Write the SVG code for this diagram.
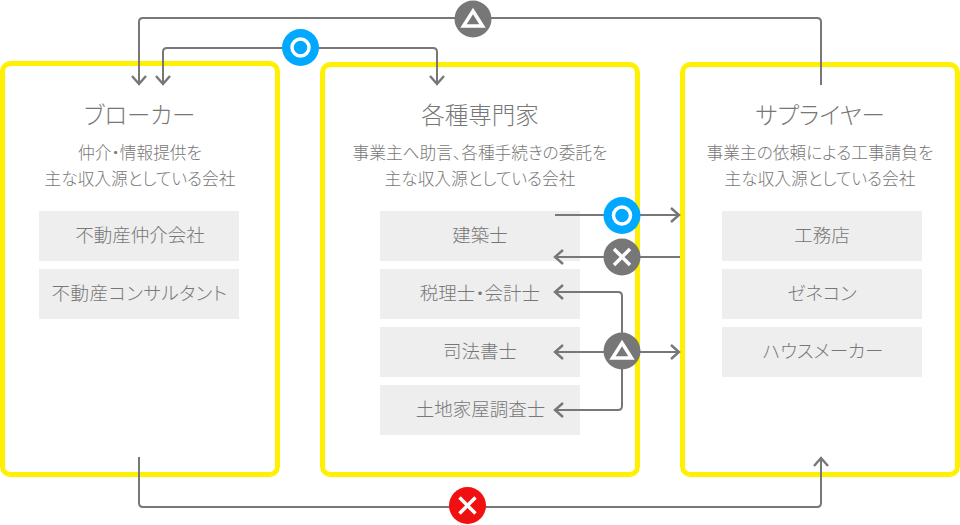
<svg xmlns="http://www.w3.org/2000/svg" width="960" height="525" viewBox="0 0 960 525">
<style>
text{font-family:"Noto Sans CJK JP","Noto Sans",sans-serif;font-weight:300;fill:#777;text-anchor:middle;font-feature-settings:"palt"}
.t{font-size:23.5px}.d{font-size:16.700px}.i{font-size:18.500px}
.box{fill:#fff;stroke:#fff000;stroke-width:5}
.item{fill:#eee}
.c{fill:none;stroke:#777;stroke-width:2}
.a{fill:none;stroke:#777;stroke-width:2.4}
.g{stroke:#fff;stroke-width:3.5;fill:none}
</style>
<defs>
<g id="o"><circle r="18.5" fill="#00a8ff"/><circle r="8.5" class="g"/></g>
<g id="x"><circle r="18.5" fill="#777"/><path d="M-8-8L8 8M8-8L-8 8" class="g"/></g>
<g id="xr"><circle r="18.5" fill="#f01010"/><path d="M-8-8L8 8M8-8L-8 8" class="g"/></g>
<g id="t"><circle r="18.5" fill="#777"/><path d="M0-8L9.500 7H-9.500Z" class="g"/></g>
</defs>
<g id="broker"><rect class="box" x="2.500" y="63.500" width="275" height="411" rx="8"/>
<text class="t" x="139.500" y="124">ブローカー</text>
<text class="d" x="140" y="159">仲介・情報提供を</text><text class="d" x="140" y="185">主な収入源としている会社</text>
<rect class="item" x="39" y="211" width="200" height="50"/><text class="i" x="140" y="242">不動産仲介会社</text>
<rect class="item" x="39" y="269" width="200" height="50"/><text class="i" x="139.500" y="300" letter-spacing=".5">不動産コンサルタント</text></g>
<g id="specialist"><rect class="box" x="322.500" y="64.500" width="315" height="410" rx="8"/>
<text class="t" x="480" y="124">各種専門家</text>
<text class="d" x="480" y="159">事業主へ助言、各種手続きの委託を</text><text class="d" x="480" y="185">主な収入源としている会社</text>
<rect class="item" x="380" y="211" width="200" height="50"/><text class="i" x="480" y="242">建築士</text>
<rect class="item" x="380" y="269" width="200" height="50"/><text class="i" x="480" y="300">税理士・会計士</text>
<rect class="item" x="380" y="327" width="200" height="50"/><text class="i" x="480" y="358">司法書士</text>
<rect class="item" x="380" y="385" width="200" height="50"/><text class="i" x="480.500" y="416">土地家屋調査士</text></g>
<g id="supplier"><rect class="box" x="682.500" y="64.500" width="275" height="410" rx="8"/>
<text class="t" x="820" y="124">サプライヤー</text>
<text class="d" x="820" y="159">事業主の依頼による工事請負を</text><text class="d" x="820" y="185">主な収入源としている会社</text>
<rect class="item" x="722" y="211" width="200" height="50"/><text class="i" x="822" y="242">工務店</text>
<rect class="item" x="722" y="269" width="200" height="50"/><text class="i" x="822" y="300">ゼネコン</text>
<rect class="item" x="722" y="327" width="200" height="50"/><text class="i" x="823" y="358">ハウスメーカー</text></g>
<g id="connectors">
<path class="c" d="M821 85V22Q821 18 817 18H143Q139 18 139 22V84"/>
<path class="a" d="M132 76L139 84L146 76"/>
<path class="c" d="M163 84V52Q163 48 167 48H433Q437 48 437 52V84"/>
<path class="a" d="M156 76L163 84L170 76M430 76L437 84L444 76"/>
<path class="c" d="M139 457V503Q139 507 143 507H817Q821 507 821 503V458"/>
<path class="a" d="M814 466L821 458L828 466"/>
<path class="c" d="M555 215H679"/><path class="a" d="M671 208L679 215L671 222"/>
<path class="c" d="M555 257H680"/><path class="a" d="M563 250L555 257L563 264"/>
<path class="c" d="M555 292H618Q622 292 622 296V406Q622 410 618 410H555"/>
<path class="a" d="M563 285L555 292L563 299M563 403L555 410L563 417"/>
<path class="c" d="M555 352H679"/><path class="a" d="M563 345L555 352L563 359M671 345L679 352L671 359"/>
<use href="#t" x="473" y="19"/>
<use href="#o" x="300.500" y="47.500"/>
<use href="#xr" x="467.500" y="505.500"/>
<use href="#o" x="622" y="215.500"/>
<use href="#x" x="622" y="257"/>
<use href="#t" x="622" y="351"/>
</g>
</svg>
